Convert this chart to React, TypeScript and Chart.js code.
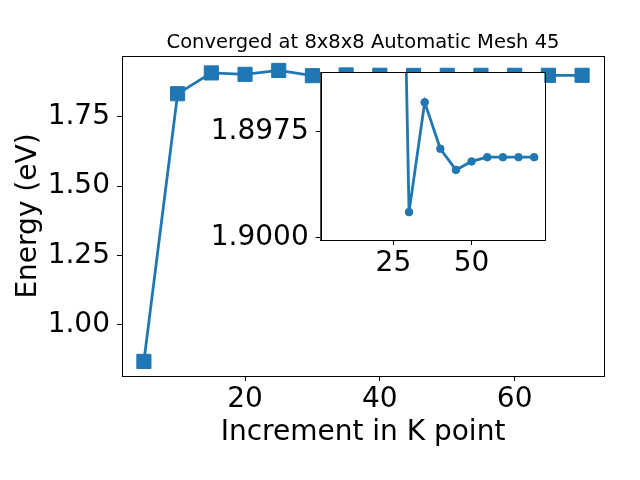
import React, { useEffect, useRef } from 'react';
import { Chart, registerables } from 'chart.js';

Chart.register(...registerables);

// ---- data ----
const K_POINTS = [5, 10, 15, 20, 25, 30, 35, 40, 45, 50, 55, 60, 65, 70];
const ENERGY = [0.868, 1.833, 1.908, 1.903, 1.917, 1.8981, 1.9007, 1.8996, 1.8991, 1.8993, 1.8994, 1.8994, 1.8994, 1.8994];
// the inset shows the curve from this K point on
const INSET_FROM_K = 25;

const MAIN_X_TICKS = [20, 40, 60];
const MAIN_Y_TICKS = [1.0, 1.25, 1.5, 1.75];
const INSET_X_TICKS = [25, 50];
const INSET_Y_TICKS = [1.8975, 1.9];
const INSET_Y_TICK_LABELS = ['1.9000', '1.8975'];

const TITLE = 'Converged at 8x8x8 Automatic Mesh 45';
const X_LABEL = 'Increment in K point';
const Y_LABEL = 'Energy (eV)';

const BLUE = '#1f77b4';
const FONT = 'DejaVu Sans';

const setTicks = (vals: number[]) => (scale: any) => {
  scale.ticks = vals.map((v) => ({ value: v }));
};

const framePlugin = {
  id: 'frame',
  afterDraw(chart: any) {
    const { ctx, chartArea: a } = chart;
    ctx.save();
    ctx.strokeStyle = '#000';
    ctx.lineWidth = 1;
    ctx.strokeRect(Math.round(a.left) + 0.5, Math.round(a.top) + 0.5, Math.round(a.right - a.left), Math.round(a.bottom - a.top));
    ctx.restore();
  },
};

const whiteBgPlugin = {
  id: 'whiteBg',
  beforeDatasetsDraw(chart: any) {
    const { ctx, chartArea: a } = chart;
    ctx.save();
    ctx.fillStyle = '#fff';
    ctx.fillRect(a.left, a.top, a.right - a.left, a.bottom - a.top);
    ctx.restore();
  },
};

const labelsPlugin = {
  id: 'labels',
  afterDraw(chart: any) {
    const { ctx, chartArea: a } = chart;
    const cx = (a.left + a.right) / 2;
    const cy = (a.top + a.bottom) / 2;
    ctx.save();
    ctx.fillStyle = '#000';
    ctx.textAlign = 'center';
    ctx.textBaseline = 'alphabetic';
    ctx.font = `19.5px "${FONT}"`;
    ctx.fillText(TITLE, cx, 48);
    ctx.font = `28px "${FONT}"`;
    ctx.fillText(X_LABEL, cx, 440);
    ctx.translate(36, cy);
    ctx.rotate(-Math.PI / 2);
    ctx.fillText(Y_LABEL, 0, 0);
    ctx.restore();
  },
};

const axisCommon = {
  grid: { display: true, drawOnChartArea: false, drawTicks: true, tickLength: 5, color: '#000', lineWidth: 1 },
  border: { display: true, color: '#000', width: 1 },
};

export default function App() {
  const mainRef = useRef<HTMLCanvasElement>(null);
  const insetRef = useRef<HTMLCanvasElement>(null);

  useEffect(() => {
    const points = K_POINTS.map((x, i) => ({ x, y: ENERGY[i] }));
    const insetPoints = points.filter((p) => p.x >= INSET_FROM_K);

    const main = new Chart(mainRef.current as HTMLCanvasElement, {
      type: 'line',
      data: {
        datasets: [
          {
            data: points,
            borderColor: BLUE,
            backgroundColor: BLUE,
            borderWidth: 2.8,
            pointStyle: 'rect',
            pointRadius: 10,
            pointBorderWidth: 1,
            pointBorderColor: BLUE,
            pointBackgroundColor: BLUE,
            tension: 0,
          },
        ],
      },
      options: {
        animation: false,
        responsive: false,
        devicePixelRatio: 1,
        events: [],
        layout: { padding: { left: 0, top: 56, right: 36, bottom: 0 } },
        plugins: { legend: { display: false }, tooltip: { enabled: false }, title: { display: false } },
        scales: {
          x: {
            type: 'linear',
            min: 1.75,
            max: 73.25,
            ...axisCommon,
            afterBuildTicks: setTicks(MAIN_X_TICKS),
            afterFit: (s: any) => { s.height = 104; },
            ticks: { color: '#000', font: { family: FONT, size: 28 }, padding: 2, callback: (v: any) => String(v) },
          },
          y: {
            type: 'linear',
            min: 0.8153,
            max: 1.969,
            ...axisCommon,
            afterBuildTicks: setTicks(MAIN_Y_TICKS),
            afterFit: (s: any) => { s.width = 122; },
            ticks: { color: '#000', font: { family: FONT, size: 28 }, padding: 7, callback: (v: any) => Number(v).toFixed(2) },
          },
        },
      } as any,
      plugins: [framePlugin, labelsPlugin],
    });

    const inset = new Chart(insetRef.current as HTMLCanvasElement, {
      type: 'line',
      data: {
        datasets: [
          {
            data: insetPoints,
            borderColor: BLUE,
            backgroundColor: BLUE,
            borderWidth: 2.8,
            pointStyle: 'circle',
            pointRadius: 3.8,
            pointBorderWidth: 1,
            pointBorderColor: BLUE,
            pointBackgroundColor: BLUE,
            tension: 0,
            clip: 0,
          },
        ],
      },
      options: {
        animation: false,
        responsive: false,
        devicePixelRatio: 1,
        events: [],
        layout: { padding: { left: 0, top: 72.3, right: 95.7, bottom: 0 } },
        plugins: { legend: { display: false }, tooltip: { enabled: false }, title: { display: false } },
        scales: {
          x: {
            type: 'linear',
            min: 1.75,
            max: 73.25,
            ...axisCommon,
            afterBuildTicks: setTicks(INSET_X_TICKS),
            afterFit: (s: any) => { s.height = 240; },
            ticks: { color: '#000', font: { family: FONT, size: 28 }, padding: 2, callback: (v: any) => String(v) },
          },
          y: {
            type: 'linear',
            min: 1.89744,
            max: 1.90141,
            ...axisCommon,
            afterBuildTicks: setTicks(INSET_Y_TICKS),
            afterFit: (s: any) => { s.width = 320.7; },
            ticks: {
              color: '#000',
              font: { family: FONT, size: 28 },
              padding: 7,
              callback: (_v: any, i: number) => INSET_Y_TICK_LABELS[i],
            },
          },
        },
      } as any,
      plugins: [whiteBgPlugin, framePlugin],
    });

    return () => {
      main.destroy();
      inset.destroy();
    };
  }, []);

  const cs: React.CSSProperties = { position: 'absolute', left: 0, top: 0, display: 'block' };
  return (
    <div style={{ position: 'absolute', left: 0, top: 0, width: 640, height: 480, background: '#fff' }}>
      <canvas ref={mainRef} width={640} height={480} style={cs} />
      <canvas ref={insetRef} width={640} height={480} style={cs} />
    </div>
  );
}
